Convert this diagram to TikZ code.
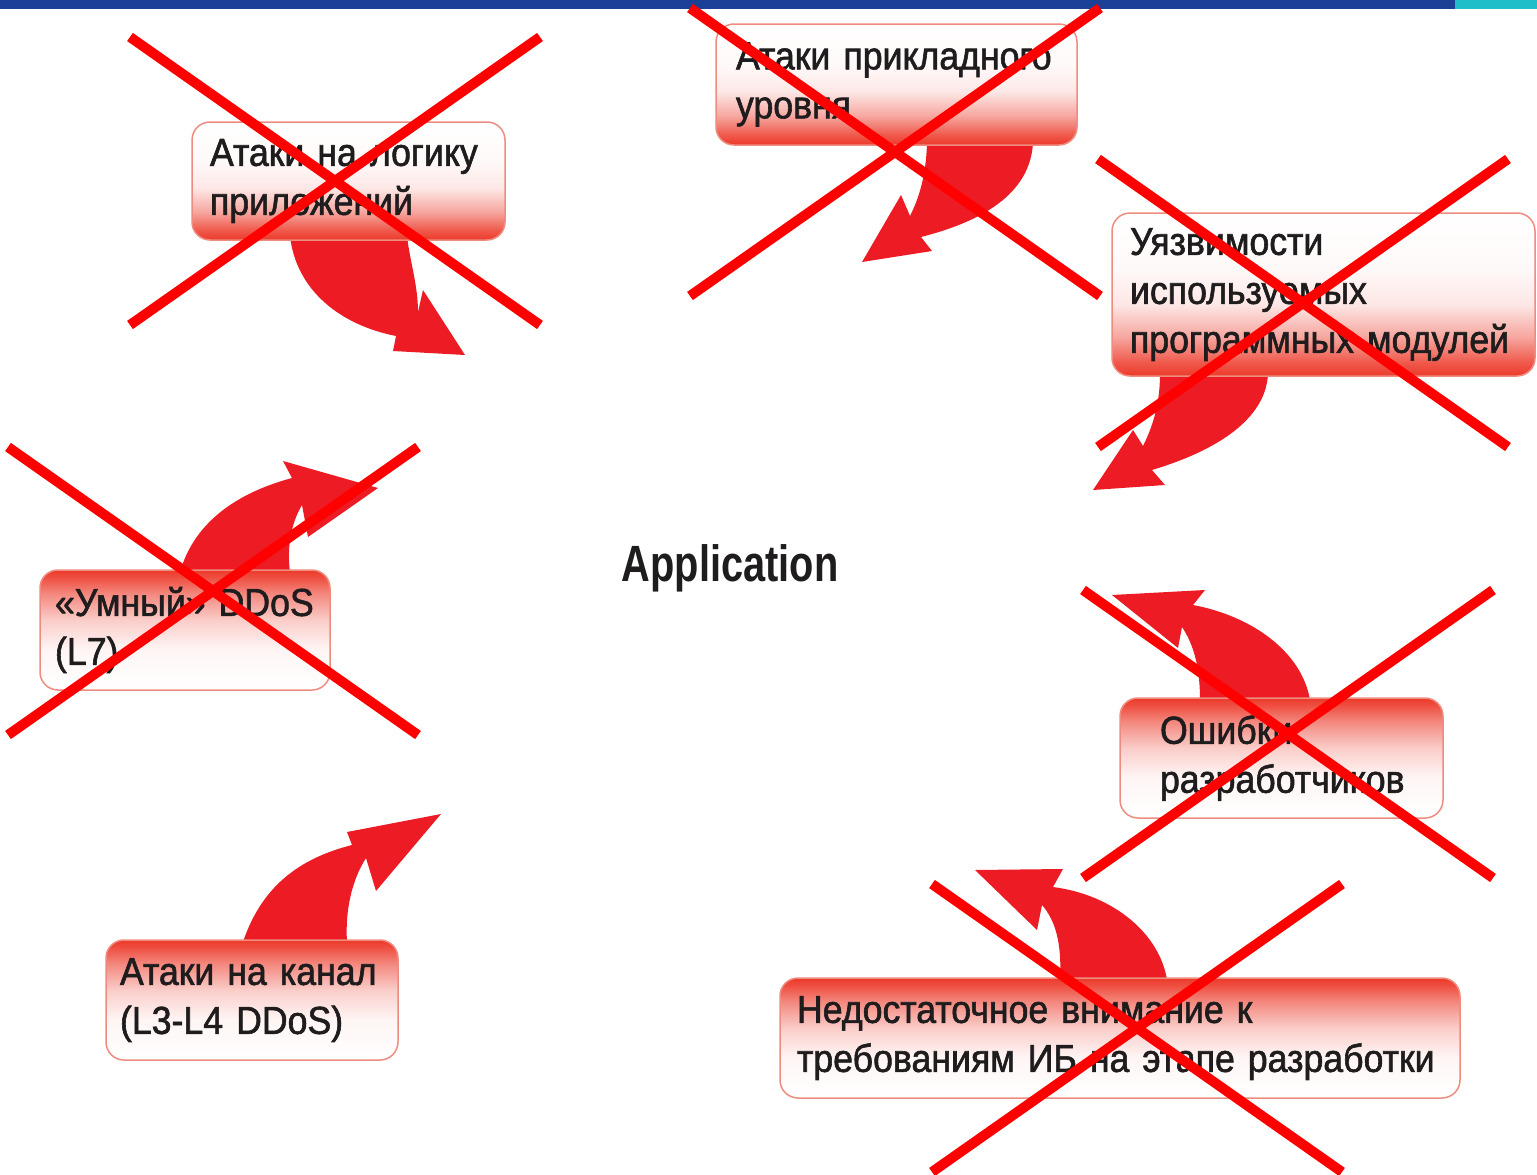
\documentclass[tikz,border=0pt]{standalone}
\usepackage{fontspec}
\usepackage{tikz}
\usetikzlibrary{positioning}
\newfontfamily\boxfont{Liberation Sans}[FakeStretch=0.915, FakeBold=1.5]
\newfontfamily\appfont{Liberation Sans}[FakeStretch=0.78]
\definecolor{barblue}{RGB}{28,64,150}
\definecolor{barcyan}{RGB}{32,190,200}
\definecolor{arrred}{RGB}{237,28,36}
\definecolor{boxred}{RGB}{236,58,42}
\definecolor{boxedge}{RGB}{238,140,128}
\definecolor{textgray}{RGB}{30,28,29}
\definecolor{crossred}{RGB}{255,0,0}
% the path covers 25bp..75bp of a 100bp shading
\pgfdeclareverticalshading{upshade}{100bp}{color(0bp)=(boxred); color(25bp)=(boxred); color(29bp)=(boxred!85!white); color(37bp)=(boxred!45!white); color(47bp)=(boxred!12!white); color(58bp)=(boxred!3!white); color(75bp)=(white); color(100bp)=(white)}
\pgfdeclareverticalshading{downshade}{100bp}{color(0bp)=(white); color(25bp)=(white); color(42bp)=(boxred!5!white); color(54bp)=(boxred!25!white); color(65bp)=(boxred!60!white); color(72bp)=(boxred!90!white); color(75bp)=(boxred); color(100bp)=(boxred)}

\begin{document}
\begin{tikzpicture}[
    x=1pt, y=-1pt,
    basebox/.style={
        rectangle, rounded corners=18pt,
        draw=boxedge, line width=1.5pt,
        inner xsep=18pt, inner ysep=4pt,
        align=left, text=textgray,
        font=\boxfont\fontsize{39}{49}\selectfont
    },
    upbox/.style={basebox, shade, shading=upshade},
    downbox/.style={basebox, shade, shading=downshade},
    fatarrow/.style={fill=arrred},
    cross/.style={draw=crossred, line width=10pt},
]
\useasboundingbox (0,0) rectangle (1537,1175);

% Верхняя полоса
\fill[barblue] (0,0) rectangle (1455,9);
\fill[barcyan] (1455,0) rectangle (1537,9);

% Изогнутые стрелки
\fill[fatarrow] (290,236) .. controls (296,290) and (340,325) .. (396,336) -- (393,351) -- (465,355) -- (423,290) -- (418,312) .. controls (418,285) and (410,262) .. (407,236) -- cycle;
\fill[fatarrow] (927,143) .. controls (926,178) and (918,200) .. (910,216) -- (901,195) -- (862,262) -- (932,251) -- (921,237) .. controls (980,222) and (1030,195) .. (1033,143) -- cycle;
\fill[fatarrow] (1160,374) .. controls (1160,405) and (1152,428) .. (1143,446) -- (1133,430) -- (1093,490) -- (1165,485) -- (1152,470) .. controls (1225,448) and (1266,415) .. (1268,374) -- cycle;
\fill[fatarrow] (180,572) .. controls (195,520) and (240,492) .. (292,478) -- (283,461) -- (378,488) -- (308,537) -- (302,505) .. controls (290,525) and (287,550) .. (290,572) -- cycle;
\fill[fatarrow] (243,942) .. controls (263,882) and (305,857) .. (352,845) -- (347,832) -- (441,814) -- (376,891) -- (366,858) .. controls (352,880) and (345,910) .. (347,942) -- cycle;
\fill[fatarrow] (1200,700) .. controls (1200,668) and (1194,645) .. (1182,627) -- (1178,648) -- (1112,595) -- (1205,590) -- (1193,605) .. controls (1252,616) and (1302,652) .. (1310,700) -- cycle;
\fill[fatarrow] (1060,980) .. controls (1062,942) and (1055,920) .. (1042,905) -- (1037,930) -- (975,870) -- (1063,869) -- (1053,887) .. controls (1115,895) and (1160,935) .. (1167,980) -- cycle;

% Блоки
\node[upbox, text width=277pt, minimum height=118pt] (logic) at (348.5,181) {Атаки на логику\\приложений};
\node[upbox, text width=321pt, minimum height=121pt, inner xsep=20pt] (applied) at (896.5,84.5) {Атаки прикладного\\уровня};
\node[upbox, text width=387pt, minimum height=163pt] (modules) at (1323.5,294.5) {Уязвимости\\используемых\\программных модулей};
\node[downbox, text width=260pt, minimum height=120pt, inner xsep=15pt] (smartddos) at (185,630) {«Умный» DDoS\\(L7)};
\node[downbox, text width=264pt, minimum height=120pt, inner xsep=14pt] (channel) at (252,1000) {Атаки на канал\\(L3-L4 DDoS)};
\node[downbox, text width=243pt, minimum height=120pt, inner xsep=40pt] (devs) at (1281.5,758) {Ошибки\\разработчиков};
\node[downbox, text width=646pt, minimum height=120pt, inner xsep=17pt] (security) at (1120,1038) {Недостаточное внимание к\\требованиям ИБ на этапе разработки};

\node[text=textgray, font=\appfont\bfseries\fontsize{51}{60}\selectfont] (app) at (730,568) {Application};

% Красные кресты
\foreach \cx/\cy in {335/181, 895/152, 1303/303, 213/591, 1288/734, 1137/1028}
    \draw[cross] (\cx-205,\cy-144) -- (\cx+205,\cy+144) (\cx+205,\cy-144) -- (\cx-205,\cy+144);

\end{tikzpicture}
\end{document}
